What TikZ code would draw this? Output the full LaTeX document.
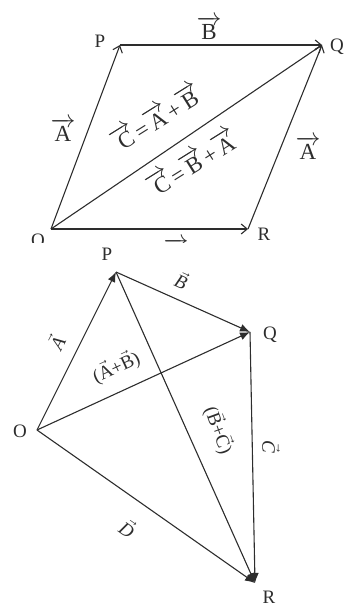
\documentclass[tikz,border=0pt]{standalone}
\usepackage{fontspec}
\setmainfont{Liberation Serif}
\usetikzlibrary{arrows.meta}
\definecolor{ink}{RGB}{45,45,45}
\newcommand{\vv}[1]{$\overrightarrow{\mbox{#1}}$}
\newcommand{\vi}[1]{$\vec{\mbox{\itshape #1}}$}

\begin{document}
\begin{tikzpicture}[x=1pt,y=-1pt,
    ln/.style={ink,line width=1.1pt},
    opar/.style={ln,-{Straight Barb[length=6pt,width=10pt]}},
    flar/.style={ln,-{Latex[length=10pt,width=8pt]}},
    pt/.style={font=\fontsize{19}{20}\selectfont,text=ink,inner sep=1pt},
    lb/.style={font=\fontsize{23}{24}\selectfont,text=ink,inner sep=1pt}]
  \useasboundingbox (0,0) rectangle (347,607);
  % parallelogram
  \begin{scope}
    \clip (0,0) rectangle (347,242);
    \coordinate (O1) at (51,229);
    \coordinate (P1) at (120,45);
    \coordinate (Q1) at (322,45);
    \coordinate (R1) at (248,229);
    \draw[opar] (O1) -- (P1);
    \draw[opar] (P1) -- (Q1);
    \draw[opar] (O1) -- (Q1);
    \draw[opar] (O1) -- (R1);
    \draw[opar] (R1) -- (Q1);
    \node[pt] (lO1) at (38,240) {O};
    \node[pt] (lP1) at (100,41) {P};
    \node[pt] (lQ1) at (337,47) {Q};
    \node[pt] (lR1) at (264,234) {R};
    \node[lb] (lB1) at (209,28) {\vv{B}};
    \node[lb] (lA1) at (63,130) {\vv{A}};
    \node[lb] (lA2) at (308,148) {\vv{A}};
    \node[lb] (lB2) at (176,250) {\vv{B}};
    \node[lb,rotate=32] (sum1) at (156,117) {\vv{C}=\vv{A}+\vv{B}};
    \node[lb,rotate=32] (sum2) at (192,162) {\vv{C}=\vv{B}+\vv{A}};
  \end{scope}
  % polygon
  \coordinate (O2) at (37,430);
  \coordinate (P2) at (116,272);
  \coordinate (Q2) at (250,332);
  \coordinate (R2) at (255,583);
  \draw[flar] (O2) -- (P2);
  \draw[flar] (P2) -- (Q2);
  \draw[flar] (O2) -- (Q2);
  \draw[flar] (Q2) -- (R2);
  \draw[flar] (P2) -- (R2);
  \draw[flar] (O2) -- (R2);
  \node[pt] (lO2) at (20,431) {O};
  \node[pt] (lP2) at (107,254) {P};
  \node[pt] (lQ2) at (270,335) {Q};
  \node[pt] (lR2) at (269,597) {R};
  \node[pt,rotate=63] (lA3) at (56,342) {\vi{A}};
  \node[pt,rotate=-24] (lB3) at (182,280) {\vi{B}};
  \node[pt,rotate=25] (lAB) at (116,367) {($\vec{\mbox{A}}$+$\vec{\mbox{B}}$)};
  \node[pt,rotate=-70] (lBC) at (219,430) {($\vec{\mbox{B}}$+$\vec{\mbox{C}}$)};
  \node[pt,rotate=-90] (lC3) at (271,447) {\vi{C}};
  \node[pt,rotate=-35] (lD3) at (128,528) {\vi{D}};
\end{tikzpicture}
\end{document}
